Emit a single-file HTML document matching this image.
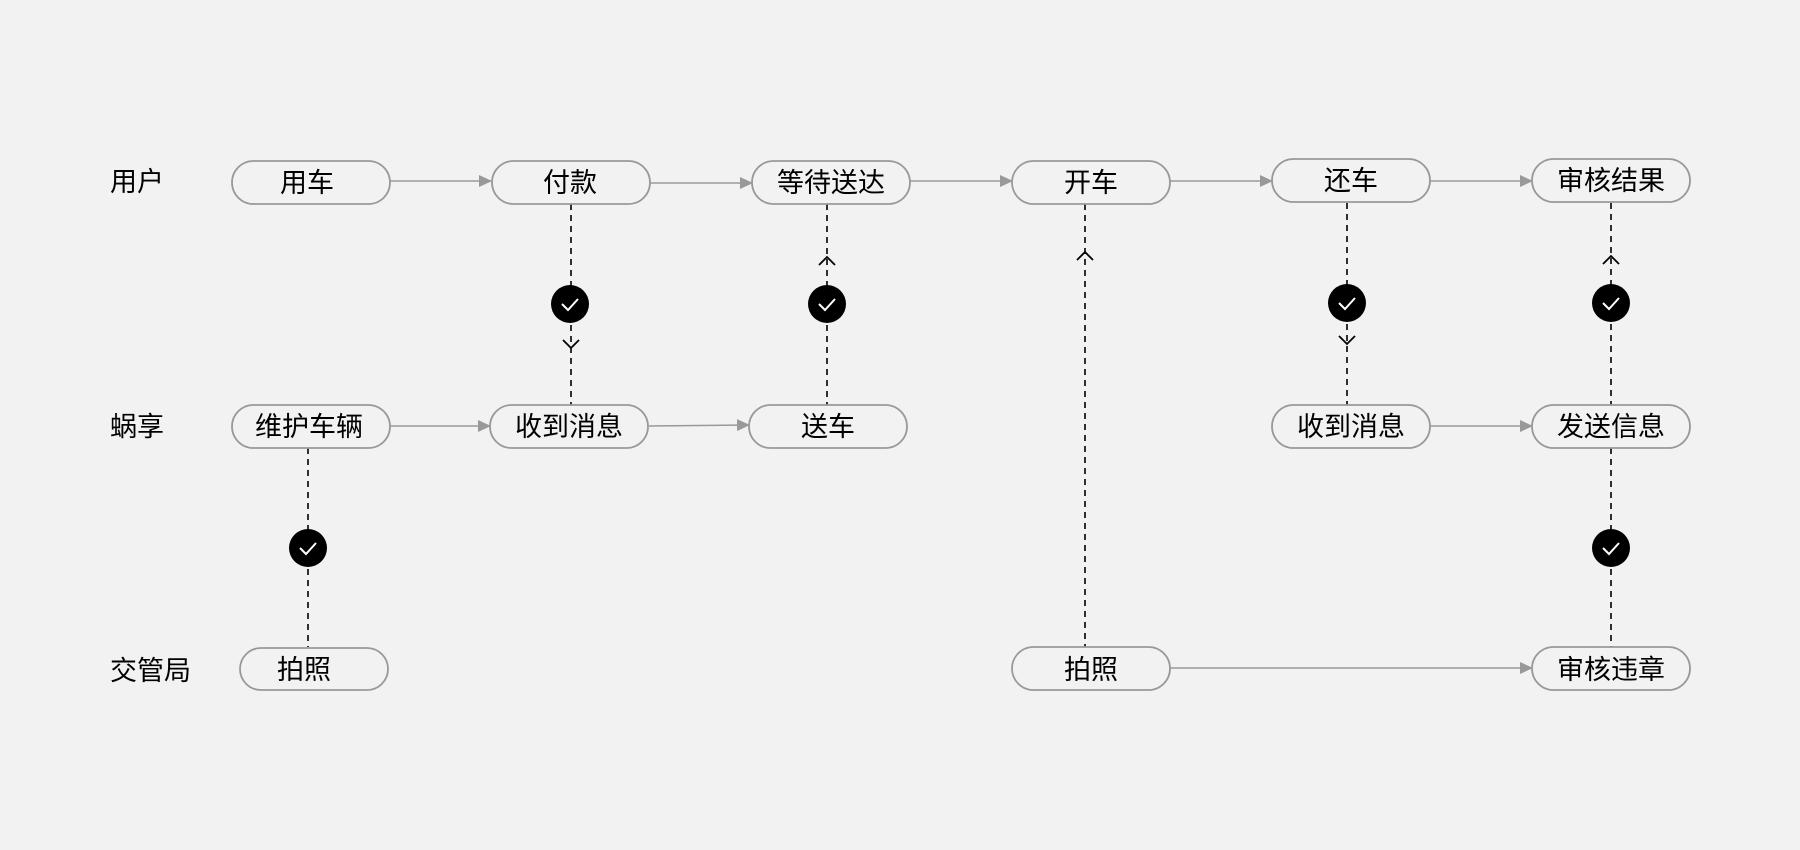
<!DOCTYPE html>
<html><head><meta charset="utf-8"><style>
html,body{margin:0;padding:0;background:#f2f2f2;}
svg{display:block;}
text{font-family:"Liberation Sans","Noto Sans CJK SC",sans-serif;font-size:27px;fill:#000;}
</style></head><body>
<svg width="1800" height="850" viewBox="0 0 1800 850" xmlns="http://www.w3.org/2000/svg">
<defs>
<marker id="ah" markerWidth="13" markerHeight="12" refX="12" refY="6" orient="auto" markerUnits="userSpaceOnUse">
<path d="M0,0 L13,6 L0,12 z" fill="#999"/>
</marker>
</defs>
<rect width="1800" height="850" fill="#f2f2f2"/>
<text x="110" y="191">用户</text>
<text x="110" y="436">蜗享</text>
<text x="110" y="680">交管局</text>

<g stroke="#999" stroke-width="1.6" fill="none" marker-end="url(#ah)">
<line x1="390" y1="181" x2="491" y2="181"/>
<line x1="650" y1="183" x2="752" y2="183"/>
<line x1="910" y1="181" x2="1012" y2="181"/>
<line x1="1170" y1="181" x2="1272" y2="181"/>
<line x1="1430" y1="181" x2="1532" y2="181"/>
<line x1="390" y1="426" x2="490" y2="426"/>
<line x1="649" y1="426" x2="749" y2="425"/>
<line x1="1430" y1="426" x2="1532" y2="426"/>
<line x1="1170" y1="668" x2="1532" y2="668"/>
</g>

<g stroke="#000" stroke-width="1.6" stroke-dasharray="6,5" fill="none">
<line x1="571" y1="204" x2="571" y2="405"/>
<line x1="827" y1="204" x2="827" y2="405"/>
<line x1="1085" y1="204" x2="1085" y2="647"/>
<line x1="1347" y1="203" x2="1347" y2="405"/>
<line x1="1611" y1="203" x2="1611" y2="405"/>
<line x1="308" y1="448" x2="308" y2="647"/>
<line x1="1611" y1="448" x2="1611" y2="647"/>
</g>
<g stroke="#000" stroke-width="1.8" fill="none">
<path d="M563,340 L571,348 L579,340"/>
<path d="M819,265 L827,257 L835,265"/>
<path d="M1077,260 L1085,252 L1093,260"/>
<path d="M1339,336 L1347,344 L1355,336"/>
<path d="M1603,264 L1611,256 L1619,264"/>
</g>

<g>
<g transform="translate(570,304)"><circle r="19" fill="#000"/><path d="M-8,0 L-2,6 L8,-5" stroke="#fff" stroke-width="2" fill="none"/></g>
<g transform="translate(827,304)"><circle r="19" fill="#000"/><path d="M-8,0 L-2,6 L8,-5" stroke="#fff" stroke-width="2" fill="none"/></g>
<g transform="translate(1347,303)"><circle r="19" fill="#000"/><path d="M-8,0 L-2,6 L8,-5" stroke="#fff" stroke-width="2" fill="none"/></g>
<g transform="translate(1611,303)"><circle r="19" fill="#000"/><path d="M-8,0 L-2,6 L8,-5" stroke="#fff" stroke-width="2" fill="none"/></g>
<g transform="translate(308,548)"><circle r="19" fill="#000"/><path d="M-8,0 L-2,6 L8,-5" stroke="#fff" stroke-width="2" fill="none"/></g>
<g transform="translate(1611,548)"><circle r="19" fill="#000"/><path d="M-8,0 L-2,6 L8,-5" stroke="#fff" stroke-width="2" fill="none"/></g>
</g>

<g stroke="#999" stroke-width="1.8" fill="#f2f2f2">
<rect x="232" y="161" width="158" height="43" rx="21.5"/>
<rect x="492" y="161" width="158" height="43" rx="21.5"/>
<rect x="752" y="161" width="158" height="43" rx="21.5"/>
<rect x="1012" y="161" width="158" height="43" rx="21.5"/>
<rect x="1272" y="159" width="158" height="43" rx="21.5"/>
<rect x="1532" y="159" width="158" height="43" rx="21.5"/>
<rect x="232" y="405" width="158" height="43" rx="21.5"/>
<rect x="490" y="405" width="158" height="43" rx="21.5"/>
<rect x="749" y="405" width="158" height="43" rx="21.5"/>
<rect x="1272" y="405" width="158" height="43" rx="21.5"/>
<rect x="1532" y="405" width="158" height="43" rx="21.5"/>
<rect x="240" y="648" width="148" height="42" rx="21"/>
<rect x="1012" y="647" width="158" height="43" rx="21.5"/>
<rect x="1532" y="647" width="158" height="43" rx="21.5"/>
</g>
<g text-anchor="middle">
<text x="307" y="192">用车</text>
<text x="570" y="192">付款</text>
<text x="831" y="192">等待送达</text>
<text x="1091" y="192">开车</text>
<text x="1351" y="190">还车</text>
<text x="1611" y="190">审核结果</text>
<text x="309" y="436">维护车辆</text>
<text x="569" y="436">收到消息</text>
<text x="828" y="436">送车</text>
<text x="1351" y="436">收到消息</text>
<text x="1611" y="436">发送信息</text>
<text x="304" y="679">拍照</text>
<text x="1091" y="679">拍照</text>
<text x="1611" y="679">审核违章</text>
</g>
</svg>
</body></html>
